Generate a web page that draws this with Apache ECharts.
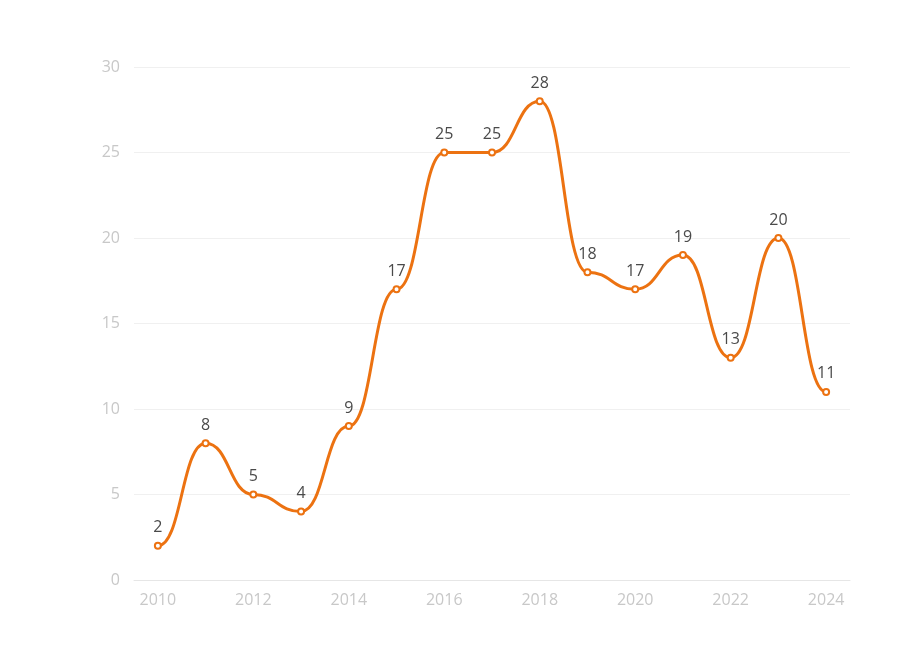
<!DOCTYPE html>
<html>
<head>
<meta charset="utf-8">
<script src="https://cdn.jsdelivr.net/npm/echarts@6/dist/echarts.min.js"></script>
<style>
  html, body { margin: 0; padding: 0; background: #fff; }
  #main { width: 918px; height: 648px; }
</style>
</head>
<body>
<div id="main"></div>
<script>
// 年份与数值
var years = ['2010','2011','2012','2013','2014','2015','2016','2017','2018','2019','2020','2021','2022','2023','2024'];
var counts = [2, 8, 5, 4, 9, 17, 25, 25, 28, 18, 17, 19, 13, 20, 11];
var yTicks = { min: 0, max: 30, interval: 5 };

var lineColor = '#ec7211';

// 每一段: [起点索引, 起点值, 终点值]
var segments = [];
for (var i = 0; i < counts.length - 1; i++) {
    segments.push([i, counts[i], counts[i + 1]]);
}

var myChart = echarts.init(document.getElementById('main'));

var option = {
    backgroundColor: '#fff',
    textStyle: { fontFamily: 'Open Sans' },
    grid: { left: 134, right: 68, top: 67, bottom: 68 },
    xAxis: {
        type: 'category',
        data: years,
        boundaryGap: true,
        axisLine: { lineStyle: { color: '#e6e6e6' } },
        axisTick: { show: false },
        axisLabel: { interval: 1, color: '#c8c8c8', fontSize: 16, margin: 12 }
    },
    yAxis: {
        type: 'value',
        min: yTicks.min,
        max: yTicks.max,
        interval: yTicks.interval,
        axisLine: { show: false },
        axisTick: { show: false },
        axisLabel: { color: '#c8c8c8', fontSize: 16, margin: 14 },
        splitLine: { lineStyle: { color: '#f0f0f0' } }
    },
    series: [{
        // 曲线: 每段两端切线水平
        type: 'custom',
        data: segments,
        z: 2,
        silent: true,
        renderItem: function (params, api) {
            var a = api.coord([api.value(0), api.value(1)]);
            var b = api.coord([api.value(0) + 1, api.value(2)]);
            var dx = (b[0] - a[0]) * 0.5;
            return {
                type: 'bezierCurve',
                shape: {
                    x1: a[0], y1: a[1],
                    x2: b[0], y2: b[1],
                    cpx1: a[0] + dx, cpy1: a[1],
                    cpx2: b[0] - dx, cpy2: b[1]
                },
                style: { stroke: lineColor, lineWidth: 3, fill: null }
            };
        }
    }, {
        type: 'line',
        data: counts,
        z: 3,
        symbol: 'emptyCircle',
        symbolSize: 6,
        lineStyle: { opacity: 0 },
        itemStyle: { color: lineColor, borderWidth: 1.5 },
        label: {
            show: true,
            position: 'top',
            color: '#4a4a4a',
            fontSize: 16,
            distance: 6
        }
    }]
};

myChart.setOption(option);
</script>
</body>
</html>
